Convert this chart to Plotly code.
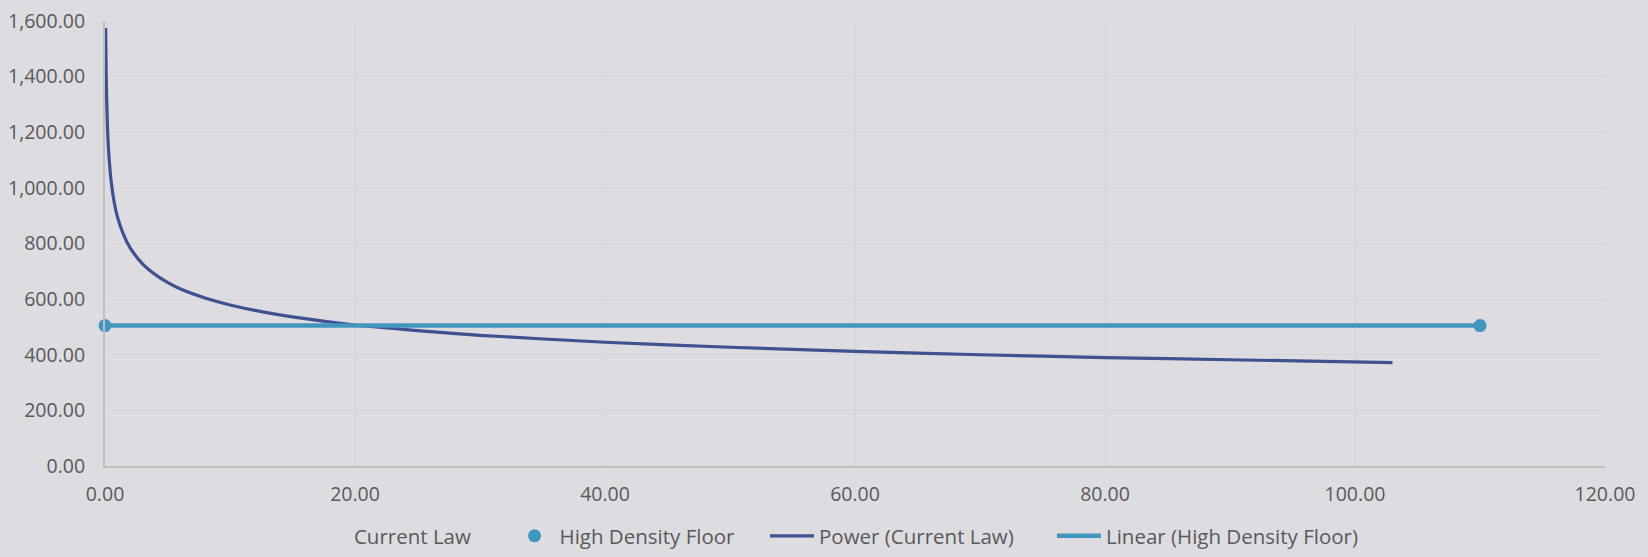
import plotly.graph_objects as go

# Power trend (Current Law)
power_x = [0.05, 0.1, 0.2, 0.3, 0.5, 0.75, 1, 1.5, 2, 3, 4, 5, 6, 8, 10, 12.5, 15,
           20, 25, 30, 40, 50, 60, 70, 80, 90, 103]
power_y = [1575, 1385, 1215, 1125, 1020, 945, 895, 830, 785, 727, 689, 660, 637, 604,
           579, 555, 536, 507, 487, 470, 445, 427, 412, 400, 390, 382, 372]

# High Density Floor points
floor_x = [0, 110]
floor_y = [505, 505]

x_ticks = [0, 20, 40, 60, 80, 100, 120]
y_ticks = [0, 200, 400, 600, 800, 1000, 1200, 1400, 1600]

FONT = "'Open Sans', Lato, sans-serif"
TXT = "#595959"
BG = "#DDDCE1"
GRID = "#D5D4D8"
AXIS = "#BFBFBF"
DARK = "#3E5190"
LIGHT = "#4096BD"

fig = go.Figure()

fig.add_trace(go.Scatter(
    x=power_x, y=power_y, mode="markers", name="Current Law",
    marker=dict(color="rgba(0,0,0,0)", size=1), hoverinfo="skip",
    legend="legend"))

fig.add_trace(go.Scatter(
    x=power_x, y=power_y, mode="lines", name="Power (Current Law)",
    line=dict(color=DARK, width=3.2, shape="spline", smoothing=0.6),
    legend="legend3"))

fig.add_trace(go.Scatter(
    x=floor_x, y=floor_y, mode="lines", name="Linear (High Density Floor)",
    line=dict(color=LIGHT, width=4.5), legend="legend4"))

fig.add_trace(go.Scatter(
    x=floor_x, y=floor_y, mode="markers", name="High Density Floor",
    marker=dict(color=LIGHT, size=13), legend="legend2", cliponaxis=False))

LEG_Y = 1 - 536 / 557
legfont = dict(family=FONT, size=20.5, color=TXT)
common = dict(orientation="h", y=LEG_Y, yref="container", yanchor="middle",
              xanchor="left", font=legfont, bgcolor="rgba(0,0,0,0)", borderwidth=0)
DX = -3 / 1500

fig.update_layout(
    width=1648, height=557,
    margin=dict(l=105, r=43, t=21, b=91, autoexpand=False),
    paper_bgcolor=BG, plot_bgcolor=BG,
    font=dict(family=FONT, size=19.5, color=TXT),
    showlegend=True,
    legend=dict(x=0.1413 + DX, itemwidth=30, **common),
    legend2=dict(x=0.2717 + DX, itemwidth=40, **common),
    legend3=dict(x=0.442 + DX, itemwidth=44, **common),
    legend4=dict(x=0.6333 + DX, itemwidth=44, **common),
)

fig.update_xaxes(
    range=[0, 120], tickvals=x_ticks, tickformat=",.2f", automargin=False,
    showgrid=True, gridcolor=GRID, gridwidth=1,
    showline=True, linecolor=AXIS, linewidth=2, mirror=False,
    zeroline=False, ticks="outside", ticklen=10, tickcolor="rgba(0,0,0,0)",
)
fig.update_yaxes(
    range=[0, 1600], tickvals=y_ticks, tickformat=",.2f", automargin=False,
    showgrid=True, gridcolor=GRID, gridwidth=1,
    showline=True, linecolor=AXIS, linewidth=2,
    zeroline=False, ticks="outside", ticklen=14, tickcolor="rgba(0,0,0,0)",
)

fig.write_html(
    "out.html",
    config={"displayModeBar": False},
    post_script="document.body.style.margin='0px';document.body.style.background='%s';" % BG,
)
